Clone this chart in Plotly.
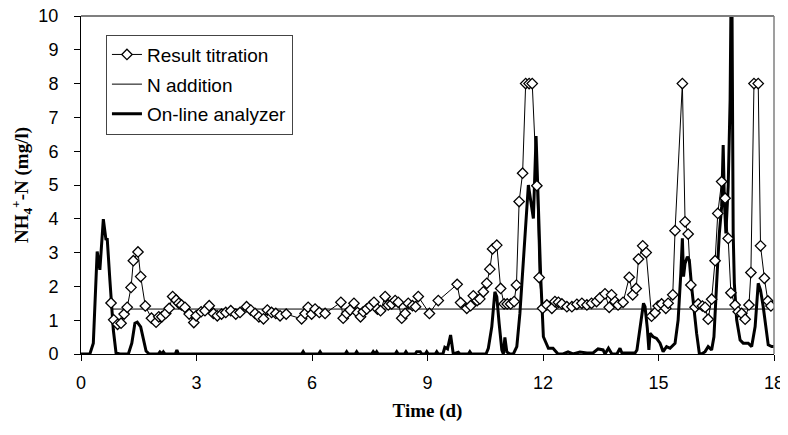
import plotly.graph_objects as go

# ---- Data ----
titration_t = [0.78, 0.85, 0.95, 1.04, 1.12, 1.20, 1.30, 1.36, 1.48, 1.55, 1.67, 1.83, 1.95, 2.02, 2.10,
               2.20, 2.29, 2.38, 2.47, 2.54, 2.61, 2.70, 2.81, 2.93, 2.99, 3.12, 3.22, 3.33, 3.44, 3.54,
               3.65, 3.76, 3.89, 4.02, 4.13, 4.30, 4.41, 4.52, 4.62, 4.74, 4.84, 4.95, 5.06, 5.17, 5.33,
               5.73, 5.82, 5.90, 5.99, 6.08, 6.19, 6.34, 6.75, 6.81, 6.90, 6.99, 7.09, 7.18, 7.26, 7.33,
               7.42, 7.52, 7.61, 7.70, 7.78, 7.90, 7.98, 8.07, 8.16, 8.24, 8.33, 8.42, 8.50, 8.61, 8.69,
               8.76, 9.05, 9.28, 9.77, 9.86, 10.02, 10.12, 10.19, 10.29, 10.36, 10.45, 10.54, 10.62, 10.69,
               10.80, 10.90, 10.99, 11.07, 11.16, 11.25, 11.31, 11.38, 11.47, 11.55, 11.64, 11.72, 11.84,
               11.90, 11.99, 12.10, 12.23, 12.31, 12.40, 12.49, 12.62, 12.75, 12.88, 13.01, 13.14, 13.26,
               13.39, 13.48, 13.61, 13.72, 13.78, 13.87, 13.95, 14.08, 14.24, 14.33, 14.42, 14.48, 14.59,
               14.68, 14.82, 14.91, 14.99, 15.08, 15.19, 15.25, 15.37, 15.43, 15.62, 15.69, 15.77, 15.84,
               15.95, 16.03, 16.14, 16.21, 16.29, 16.38, 16.47, 16.54, 16.64, 16.73, 16.81, 16.88, 16.99,
               17.07, 17.16, 17.25, 17.35, 17.40, 17.48, 17.59, 17.65, 17.75, 17.84, 17.92]
titration_v = [1.51, 1.01, 0.88, 0.91, 1.18, 1.38, 1.97, 2.76, 3.02, 2.29, 1.42, 1.06, 0.94, 1.10, 1.10,
               1.20, 1.35, 1.70, 1.60, 1.50, 1.45, 1.38, 1.18, 0.93, 1.13, 1.25, 1.28, 1.43, 1.20, 1.13,
               1.18, 1.23, 1.28, 1.18, 1.23, 1.40, 1.30, 1.20, 1.10, 1.04, 1.30, 1.23, 1.20, 1.13, 1.18,
               1.04, 1.20, 1.38, 1.18, 1.33, 1.23, 1.20, 1.53, 1.06, 1.20, 1.30, 1.50, 1.23, 1.10, 1.25,
               1.33, 1.43, 1.53, 1.33, 1.28, 1.70, 1.45, 1.48, 1.58, 1.53, 1.06, 1.20, 1.50, 1.43, 1.40,
               1.70, 1.20, 1.58, 2.06, 1.52, 1.35, 1.43, 1.72, 1.58, 1.63, 1.84, 2.09, 2.51, 3.11,
               3.22, 1.94, 1.48, 1.48, 1.48, 1.55, 2.04, 4.51, 5.35, 8.00, 8.00, 8.00, 4.98,
               2.26, 1.35, 1.45, 1.35, 1.55, 1.53, 1.48, 1.40, 1.40, 1.47, 1.50, 1.45, 1.50,
               1.55, 1.66, 1.78, 1.38, 1.75, 1.55, 1.45, 1.53, 2.27, 1.75, 1.94, 2.81, 3.20,
               3.00, 1.12, 1.22, 1.42, 1.48, 1.35, 1.50, 1.75, 3.65, 8.00, 3.91, 3.55, 2.04,
               1.38, 1.48, 1.42, 1.38, 1.03, 1.62, 2.76, 4.16, 5.10, 4.61, 3.42, 1.81, 1.45,
               1.25, 1.20, 1.03, 1.45, 2.41, 8.00, 8.00, 3.20, 2.24, 1.57, 1.42]

n_addition_t = [0.80, 18.0]
n_addition_v = [1.33, 1.33]

analyzer_t = [0.00, 0.23, 0.32, 0.42, 0.49, 0.58, 0.65, 0.68, 0.75, 0.84, 0.91, 1.01, 1.23, 1.32, 1.40,
              1.46, 1.55, 1.62, 1.69, 1.77, 2.01, 2.05, 2.09, 2.11, 2.14, 2.18, 2.45, 2.49, 2.53, 5.73,
              5.77, 5.81, 6.17, 6.21, 6.25, 6.86, 6.90, 6.94, 7.12, 7.16, 7.20, 7.55, 7.59, 7.63, 7.64,
              7.68, 7.72, 8.16, 8.20, 8.24, 8.40, 8.44, 8.48, 8.68, 8.72, 8.76, 8.81, 8.85, 8.94, 8.98,
              9.02, 9.20, 9.24, 9.28, 9.40, 9.45, 9.52, 9.60, 9.67, 9.80, 9.84, 10.06, 10.10, 10.14,
              10.52, 10.58, 10.67, 10.75, 10.80, 10.86, 10.93, 10.97, 11.01, 11.06, 11.14, 11.23, 11.32,
              11.40, 11.49, 11.62, 11.75, 11.82, 11.94, 12.01, 12.14, 12.26, 12.39, 12.52, 12.65, 12.78,
              12.96, 13.14, 13.30, 13.43, 13.56, 13.61, 13.70, 13.79, 13.92, 14.00, 14.05, 14.39, 14.44,
              14.52, 14.61, 14.65, 14.71, 14.75, 14.78, 14.86, 14.95, 15.04, 15.12, 15.21, 15.30, 15.43,
              15.51, 15.58, 15.62, 15.65, 15.69, 15.75, 15.80, 15.86, 15.92, 15.99, 16.06, 16.12, 16.21,
              16.29, 16.38, 16.44, 16.51, 16.58, 16.64, 16.68, 16.71, 16.75, 16.81, 16.86, 16.88, 16.91,
              16.94, 16.97, 17.03, 17.12, 17.20, 17.33, 17.42, 17.51, 17.59, 17.65, 17.72, 17.79, 17.85,
              17.94, 18.00]
analyzer_v = [0.00, 0.00, 0.32, 3.03, 2.49, 3.99, 3.37, 3.43, 2.19, 0.71, 0.03, 0.00, 0.00, 0.32, 0.91,
              0.94, 0.80, 0.41, 0.09, 0.00, 0.00, 0.06, 0.00, 0.00, 0.06, 0.00, 0.00, 0.12, 0.00, 0.00,
              0.07, 0.00, 0.00, 0.07, 0.00, 0.00, 0.07, 0.00, 0.00, 0.07, 0.00, 0.00, 0.07, 0.00, 0.00,
              0.07, 0.00, 0.00, 0.07, 0.00, 0.00, 0.07, 0.00, 0.00, 0.07, 0.07, 0.07, 0.00, 0.00, 0.07,
              0.00, 0.00, 0.07, 0.00, 0.00, 0.20, 0.15, 0.56, 0.00, 0.05, 0.00, 0.00, 0.07, 0.00,
              0.00, 0.17, 0.81, 1.84, 1.69, 0.91, 0.12, 0.00, 0.49, 0.06, 0.00, 0.00, 0.22,
              1.20, 2.68, 5.00, 4.01, 6.45, 2.29, 0.51, 0.17, 0.17, 0.00, 0.00, 0.06, 0.00,
              0.06, 0.03, 0.03, 0.15, 0.12, 0.00, 0.17, 0.00, 0.00, 0.17, 0.03, 0.03, 0.12,
              0.71, 1.50, 1.40, 0.76, 0.12, 0.61, 0.51, 0.46, 0.32, 0.07, 0.22, 0.17, 0.32,
              1.01, 2.39, 3.42, 2.29, 2.68, 2.88, 2.78, 1.99, 1.30, 0.61, 0.02, 0.00, 0.07,
              0.22, 0.12, 0.51, 2.09, 3.57, 4.36, 6.18, 4.56, 3.57, 4.95, 7.51, 10.08, 10.08,
              3.57, 2.09, 1.01, 0.41, 0.32, 0.32, 0.22, 0.81, 2.09, 1.89, 1.40, 0.81, 0.27,
              0.22, 0.22]

x_ticks = [0, 3, 6, 9, 12, 15, 18]
y_ticks = [0, 1, 2, 3, 4, 5, 6, 7, 8, 9, 10]

SANS = "Liberation Sans, Arial, sans-serif"
SERIF = "Liberation Serif, Times New Roman, serif"

fig = go.Figure()

fig.add_trace(go.Scatter(
    x=analyzer_t, y=analyzer_v, mode="lines", name="On-line analyzer",
    line=dict(color="black", width=3), legendrank=3, legendgroup="c"))

fig.add_trace(go.Scatter(
    x=n_addition_t, y=n_addition_v, mode="lines", name="N addition",
    line=dict(color="black", width=1), legendrank=2, legendgroup="b"))

fig.add_trace(go.Scatter(
    x=titration_t, y=titration_v, mode="lines+markers", name="Result titration",
    line=dict(color="black", width=1),
    marker=dict(symbol="diamond", size=8, color="white", line=dict(color="black", width=1.3)),
    legendrank=1, legendgroup="a"))

# The page body adds an 8px offset, so the figure is sized to fit the 788x435 window.
fig.update_layout(
    width=780, height=427,
    margin=dict(l=73, r=14, t=8, b=81),
    paper_bgcolor="white", plot_bgcolor="white",
    showlegend=True,
    legend=dict(
        x=0.036, y=0.945, xanchor="left", yanchor="top",
        bordercolor="#444444", borderwidth=1, bgcolor="white",
        font=dict(family=SANS, size=19, color="black"),
        traceorder="grouped", tracegroupgap=2,
    ),
    xaxis=dict(
        range=[0, 18], tickvals=x_ticks, ticktext=[str(v) for v in x_ticks],
        automargin=False, ticklabeloverflow="allow",
        showgrid=False, zeroline=False, showline=True, linecolor="black", linewidth=1,
        ticks="outside", ticklen=6, tickcolor="black", ticklabelstandoff=6,
        tickfont=dict(family=SANS, size=18, color="black"),
        title=dict(text="<b>Time (d)</b>", font=dict(family=SERIF, size=19, color="black"), standoff=12),
    ),
    yaxis=dict(
        range=[0, 10], tickvals=y_ticks, ticktext=[str(v) for v in y_ticks],
        automargin=False, ticklabeloverflow="allow",
        showgrid=False, zeroline=False, showline=True, linecolor="black", linewidth=1,
        ticks="outside", ticklen=6, tickcolor="black", ticklabelstandoff=12,
        tickfont=dict(family=SANS, size=18, color="black"),
        title=dict(text="<b>NH<sub>4</sub><sup>+</sup>-N (mg/l)</b>",
                   font=dict(family=SERIF, size=19, color="black"), standoff=4),
    ),
    shapes=[
        dict(type="line", xref="paper", yref="paper", x0=0, x1=1, y0=1, y1=1,
             line=dict(color="#7f7f7f", width=2)),
        dict(type="line", xref="paper", yref="paper", x0=1, x1=1, y0=0, y1=1,
             line=dict(color="#7f7f7f", width=1.5)),
    ],
)

fig.write_html("out.html")
